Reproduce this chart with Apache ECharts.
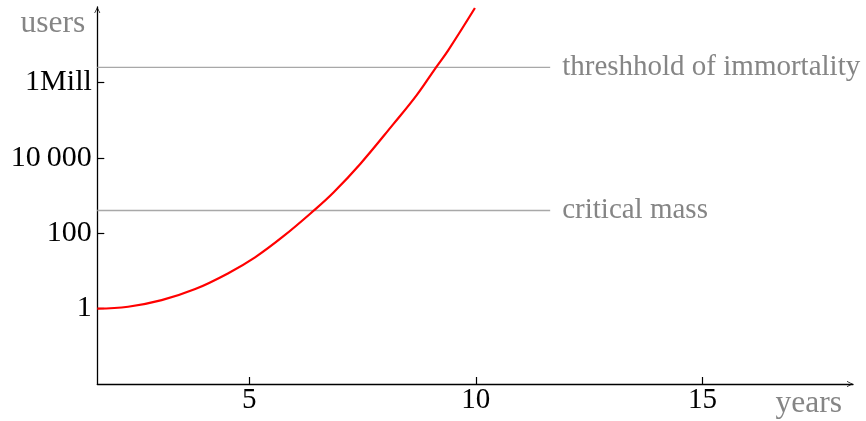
<!DOCTYPE html>
<html><head><meta charset="utf-8">
<script src="https://cdn.jsdelivr.net/npm/echarts@6/dist/echarts.min.js"></script>
<style>html,body{margin:0;padding:0;background:#fff}#c{width:866px;height:421px}</style>
</head><body><div id="c"></div>
<script>
// data
const years = [1.65, 2.33, 3.07, 3.81, 4.54, 5.13, 5.75, 6.42, 6.86, 7.45, 8.18, 8.70, 9.10, 9.39, 9.98];
const users = [1, 1.12, 1.68, 3.3, 8.7, 22.9, 82, 393, 1200, 6860, 78200, 468000, 2300000, 7100000, 94000000];
const xTickValues = [5, 10, 15];
const yTickValues = [1, 100, 10000, 1000000];
const yTickLabels = ['1', '100', '10\u2009000', '1Mill'];
const thresholdNames = ['critical mass', 'threshhold of immortality'];
const thresholdValues = [400, 2500000];
const thresholdYearRange = [1.65, 11.64];
const xRange = [1.65, 18.32];
const yRange = [0.01, 100000000];

const FONT = "'Liberation Serif','Times New Roman',serif";
const GREY_TEXT = '#858585';
const GREY_LINE = '#a8a8a8';
const arrowPath = 'path://M0,10 L5,0 L10,10 L8.8,10 L5,2.4 L1.2,10 Z';

const chart = echarts.init(document.getElementById('c'), null, {renderer: 'canvas'});
const curve = years.map((y, i) => [y, users[i]]);

const thresholdSeries = thresholdNames.map((name, i) => ({
  type: 'line',
  name: name,
  data: [[thresholdYearRange[0], thresholdValues[i]], [thresholdYearRange[1], thresholdValues[i]]],
  showSymbol: false,
  symbol: 'none',
  silent: true,
  z: 1,
  lineStyle: {color: GREY_LINE, width: 1.3},
  endLabel: {
    show: true,
    formatter: name,
    color: GREY_TEXT,
    fontFamily: FONT,
    fontSize: 29,
    distance: 12
  }
}));

chart.setOption({
  animation: false,
  backgroundColor: '#fff',
  grid: {left: 97.3, right: 13, top: 7, bottom: 37, containLabel: false, outerBoundsMode: 'none'},
  xAxis: {
    type: 'value',
    min: xRange[0], max: xRange[1],
    name: 'years',
    nameLocation: 'end',
    nameGap: -11,
    nameTextStyle: {color: GREY_TEXT, fontFamily: FONT, fontSize: 31.5, align: 'right', verticalAlign: 'top', padding: [4, 0, 0, 0]},
    axisLine: {show: true, lineStyle: {color: '#000', width: 1.3}, symbol: ['none', arrowPath], symbolSize: [8, 6], symbolOffset: [0, -3]},
    axisTick: {show: true, inside: true, length: 7, lineStyle: {color: '#000', width: 1.2}, customValues: xTickValues},
    axisLabel: {show: true, color: '#000', fontFamily: FONT, fontSize: 29, margin: 2, customValues: xTickValues},
    splitLine: {show: false}
  },
  yAxis: {
    type: 'log',
    logBase: 10,
    min: yRange[0], max: yRange[1],
    name: 'users',
    nameLocation: 'end',
    nameGap: -17,
    nameTextStyle: {color: GREY_TEXT, fontFamily: FONT, fontSize: 31.5, align: 'right', verticalAlign: 'middle', padding: [0, 12, 0, 0]},
    axisLine: {show: true, lineStyle: {color: '#000', width: 1.3}, symbol: ['none', arrowPath], symbolSize: [8, 6], symbolOffset: [0, -3]},
    axisTick: {show: true, inside: true, length: 7, lineStyle: {color: '#000', width: 1.2}, customValues: yTickValues},
    axisLabel: {
      show: true, color: '#000', fontFamily: FONT, fontSize: 30, margin: 5.5,
      customValues: yTickValues,
      formatter: function (v) {
        const idx = yTickValues.findIndex(t => Math.abs(Math.log10(t) - Math.log10(v)) < 1e-6);
        return idx >= 0 ? yTickLabels[idx] : '';
      }
    },
    splitLine: {show: false}
  },
  series: [
    ...thresholdSeries,
    {
      type: 'line',
      name: 'users',
      data: curve,
      smooth: 0.4,
      showSymbol: false,
      symbol: 'none',
      z: 3,
      lineStyle: {color: '#ff0000', width: 2.2}
    }
  ]
});
</script>
</body></html>
